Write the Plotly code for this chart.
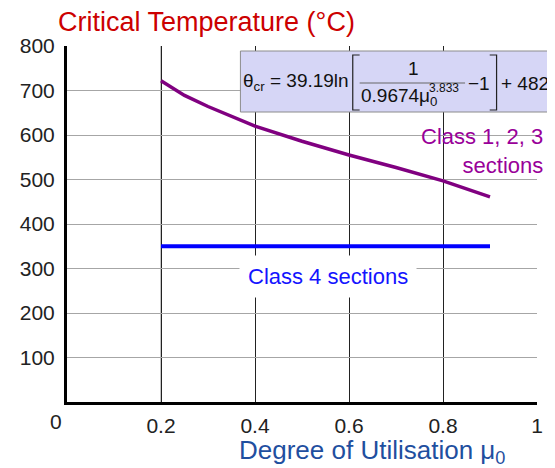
import plotly.graph_objects as go

# data
mu = [0.2, 0.25, 0.3, 0.35, 0.4, 0.5, 0.6, 0.7, 0.8, 0.9]
temp_class123 = [722, 689, 664, 641, 620, 586, 555, 527, 497, 461]
mu_class4 = [0.2, 0.9]
temp_class4 = [350, 350]

x_ticks = [0.2, 0.4, 0.6, 0.8, 1.0]
x_ticktext = ["0.2", "0.4", "0.6", "0.8", "1"]
y_ticks = [100, 200, 300, 400, 500, 600, 700, 800]

FONT = "Liberation Sans, Arial, sans-serif"
OFF = 8  # page body margin
W, H = 555 - OFF, 468 - OFF
L, R, T, B = 63 - OFF, 15, 46 - OFF, 66


def px(x):
    # screen pixel -> paper x
    return (x - OFF - L) / (W - L - R)


def py(y):
    # screen pixel -> paper y
    return (H - B - (y - OFF)) / (H - T - B)


fig = go.Figure()

fig.add_trace(go.Scatter(
    x=mu, y=temp_class123, mode="lines",
    line=dict(color="#800080", width=3.5),
    hoverinfo="skip", showlegend=False,
))
fig.add_trace(go.Scatter(
    x=mu_class4, y=temp_class4, mode="lines",
    line=dict(color="#0000ff", width=4),
    hoverinfo="skip", showlegend=False,
))

fig.update_layout(
    width=W, height=H,
    margin=dict(l=L, r=R, t=T, b=B),
    paper_bgcolor="white", plot_bgcolor="white",
    font=dict(family=FONT, size=21, color="#222"),
    title=dict(
        text="Critical Temperature (°C)",
        font=dict(family=FONT, size=27, color="#cc0000"),
        x=(58 - OFF) / W, xref="container", xanchor="left",
        y=1 - (22 - OFF) / H, yref="container", yanchor="middle",
    ),
)

fig.update_xaxes(
    range=[0, 1], tickvals=x_ticks, ticktext=x_ticktext,
    showgrid=True, gridcolor="#222", gridwidth=1,
    showline=True, linecolor="black", linewidth=3,
    ticks="", ticklabelstandoff=3, zeroline=False,
    tickfont=dict(size=21, color="#222"),
)
fig.update_yaxes(
    range=[0, 800], tickvals=y_ticks,
    showgrid=True, gridcolor="#a6a6a6", gridwidth=1,
    showline=True, linecolor="black", linewidth=3,
    ticks="", ticklabelstandoff=5, zeroline=False,
    tickfont=dict(size=21, color="#222"),
)

# lighter grid line at 0.2
fig.add_shape(type="line", xref="x", yref="paper", x0=0.2, x1=0.2, y0=0, y1=1,
              line=dict(color="#b0b0b0", width=1.5), layer="between")

# equation box
fig.add_shape(type="rect", xref="paper", yref="paper",
              x0=px(239), x1=px(557), y0=py(112), y1=py(51),
              fillcolor="#d6d6f6", line=dict(color="#8c8c8c", width=1), layer="above")


def path(points):
    return "M " + " L ".join(f"{px(a):.4f},{py(b):.4f}" for a, b in points)


for pts in ([(360, 55), (353, 55), (353, 110), (360, 110)],
            [(492, 55), (499, 55), (499, 110), (492, 110)]):
    fig.add_shape(type="path", xref="paper", yref="paper", path=path(pts),
                  line=dict(color="#222", width=1.2), layer="above")
fig.add_shape(type="line", xref="paper", yref="paper",
              x0=px(360), x1=px(467), y0=py(83), y1=py(83),
              line=dict(color="#666", width=1), layer="above")

eq_font = dict(family=FONT, size=19, color="#111")
eq_parts = [
    ("θ<sub>cr</sub> = 39.19ln", 240, 82, "left", eq_font),
    ("1", 415, 68, "center", eq_font),
    ("0.9674μ<sub>0</sub>", 359, 97, "left", eq_font),
    ("3.833", 428, 88, "left", dict(family=FONT, size=12, color="#111")),
    ("−1", 468, 83, "left", eq_font),
    ("+ 482", 501, 83, "left", eq_font),
]
for text, x, y, anchor, f in eq_parts:
    fig.add_annotation(text=text, xref="paper", yref="paper", x=px(x), y=py(y),
                       xanchor=anchor, yanchor="middle", showarrow=False, font=f)

# other labels
fig.add_annotation(text="0", xref="paper", yref="paper", x=px(52), y=py(421),
                   xanchor="center", yanchor="middle", showarrow=False,
                   font=dict(family=FONT, size=21, color="#222"))
fig.add_annotation(text="Class 4 sections", xref="paper", yref="paper",
                   x=px(328), y=py(276), xanchor="center", yanchor="middle",
                   showarrow=False, bgcolor="white", borderpad=8,
                   font=dict(family=FONT, size=22, color="#1414ff"))
fig.add_annotation(text="Class 1, 2, 3<br>sections", xref="paper", yref="paper",
                   x=px(548), y=py(151), xanchor="right", yanchor="middle",
                   align="right", showarrow=False,
                   font=dict(family=FONT, size=22, color="#990099"))
fig.add_annotation(text="Degree of Utilisation μ<sub>0</sub>", xref="paper", yref="paper",
                   x=px(236), y=py(451), xanchor="left", yanchor="middle",
                   showarrow=False,
                   font=dict(family=FONT, size=26, color="#1f4f9f"))

fig.write_html("out.html")
